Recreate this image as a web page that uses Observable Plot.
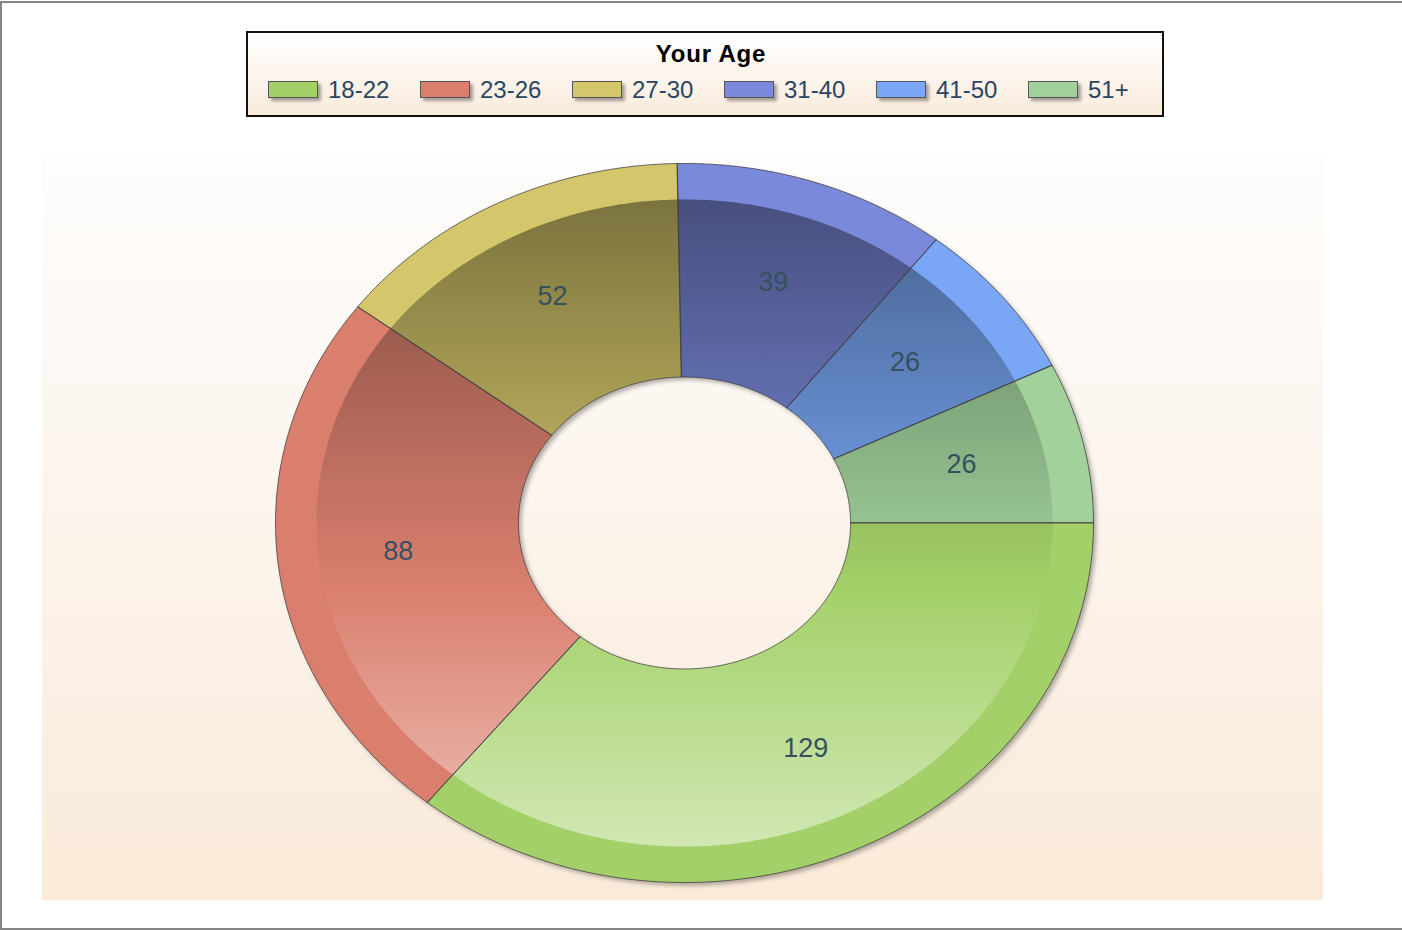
<!DOCTYPE html>
<html>
<head>
<meta charset="utf-8">
<script src="https://cdn.jsdelivr.net/npm/d3@7"></script>
<script src="https://cdn.jsdelivr.net/npm/@observablehq/plot@0.6"></script>
<style>
  html, body { margin: 0; padding: 0; background: #fff; }
  body { width: 1402px; height: 930px; position: relative; overflow: hidden; font-family: "Liberation Sans", Arial, sans-serif; }
  #frame { position: absolute; left: 0; top: 1px; width: 1410px; height: 925px; border-top: 2px solid #858585; border-left: 2px solid #858585; border-bottom: 2px solid #858585; box-sizing: content-box; }
  #panel { position: absolute; left: 42px; top: 155px; width: 1281px; height: 745px; background: linear-gradient(to bottom, #fefdfc 0%, #fcf4ec 50%, #faead9 100%); }
  #legend { position: absolute; left: 246px; top: 31px; width: 918px; height: 86px; box-sizing: border-box; border: 2px solid #111; background: linear-gradient(to bottom, #ffffff 0%, #faebdc 100%); }
  #legend .title { position: absolute; left: 12px; right: 0; top: 8px; text-align: center; font-weight: bold; font-size: 24px; letter-spacing: 0.8px; line-height: 26px; color: #000; }
  #legend .sw { position: absolute; width: 50px; height: 17px; box-sizing: border-box; border: 1px solid #555; box-shadow: 3px 3px 3px rgba(0,0,0,0.35); }
  #legend .lab { position: absolute; font-size: 24px; line-height: 26px; color: #2a4560; white-space: nowrap; }
  #chart { position: absolute; left: 0; top: 140px; }
</style>
</head>
<body>
<div id="frame"></div>
<div id="panel"></div>
<div id="legend"></div>
<div id="chart"></div>
<script>
// ---- data ----
const legendTitle = "Your Age";
const categories = ["18-22", "23-26", "27-30", "31-40", "41-50", "51+"];
const values = [129, 88, 52, 39, 26, 26];
const colors = ["#a3d068", "#da7f6e", "#d4c66b", "#7a89da", "#79a7f5", "#a2d19c"];

// ---- legend (HTML) ----
const legend = d3.select("#legend");
legend.append("div").attr("class", "title").text(legendTitle);
categories.forEach((c, i) => {
  legend.append("div").attr("class", "sw")
    .style("left", (20 + i * 152) + "px").style("top", "48px")
    .style("background", colors[i]);
  legend.append("div").attr("class", "lab")
    .style("left", (80 + i * 152) + "px").style("top", "44px")
    .text(c);
});

// ---- geometry from data via d3.pie ----
const innerR = 0.406, shadeR = 0.9, labelR = 0.7;
const arcs = d3.pie().sort(null).startAngle(0).endAngle(2 * Math.PI)(values);

function ring(key, a0, a1, r0, r1) {
  const pts = [];
  const n = Math.max(2, Math.ceil((a1 - a0) / (Math.PI / 360)));
  for (let i = 0; i <= n; i++) { const a = a0 + (a1 - a0) * i / n; pts.push({key, x: r1 * Math.cos(a), y: -r1 * Math.sin(a)}); }
  for (let i = n; i >= 0; i--) { const a = a0 + (a1 - a0) * i / n; pts.push({key, x: r0 * Math.cos(a), y: -r0 * Math.sin(a)}); }
  return pts;
}

const slices = arcs.flatMap(d => ring(categories[d.index], d.startAngle, d.endAngle, innerR, 1));
const fullRing = ring("all", 0, 2 * Math.PI, innerR, 1);
const shadeRing = ring("shade", 0, 2 * Math.PI, innerR, shadeR);
const labels = arcs.map(d => {
  const a = (d.startAngle + d.endAngle) / 2;
  return {x: labelR * Math.cos(a), y: -labelR * Math.sin(a), text: String(d.data)};
});

const chart = Plot.plot({
  width: 1402,
  height: 780,
  marginLeft: 275,
  marginRight: 309,
  marginTop: 23,
  marginBottom: 38,
  style: "background: transparent; overflow: visible;",
  x: {domain: [-1, 1], axis: null},
  y: {domain: [-1, 1], axis: null},
  color: {domain: categories, range: colors},
  marks: [
    Plot.line(fullRing, {x: "x", y: "y", z: "key", fill: "#000", fillOpacity: 0.3, stroke: "none", curve: "linear-closed", dx: 3, dy: 3}),
    Plot.line(slices, {x: "x", y: "y", z: "key", fill: "key", stroke: "none", curve: "linear-closed"}),
    Plot.line(shadeRing, {x: "x", y: "y", z: "key", fill: "url(#shade)", stroke: "none", curve: "linear-closed"}),
    Plot.line(slices, {x: "x", y: "y", z: "key", fill: "none", stroke: "#3c3c3c", strokeWidth: 1, strokeOpacity: 0.75, curve: "linear-closed"}),
    Plot.text(labels, {x: "x", y: "y", text: "text", fontSize: 27, fontFamily: "Liberation Sans, Arial, sans-serif", fill: "#37505e", dx: -2, dy: -2})
  ]
});

const svg = d3.select(chart);
const defs = svg.insert("defs", ":first-child");
const g = defs.append("linearGradient").attr("id", "shade").attr("x1", 0).attr("y1", 0).attr("x2", 0).attr("y2", 1);
g.append("stop").attr("offset", 0).attr("stop-color", "#000").attr("stop-opacity", 0.42);
g.append("stop").attr("offset", 0.6).attr("stop-color", "#000").attr("stop-opacity", 0);
g.append("stop").attr("offset", 0.6).attr("stop-color", "#fff").attr("stop-opacity", 0);
g.append("stop").attr("offset", 1).attr("stop-color", "#fff").attr("stop-opacity", 0.5);
defs.append("filter").attr("id", "blur").attr("x", "-5%").attr("y", "-5%").attr("width", "110%").attr("height", "110%")
  .append("feGaussianBlur").attr("stdDeviation", 2);
const firstLine = chart.querySelector('g[aria-label="line"]');
if (firstLine) firstLine.setAttribute("filter", "url(#blur)");

document.getElementById("chart").appendChild(chart);
</script>
</body>
</html>
